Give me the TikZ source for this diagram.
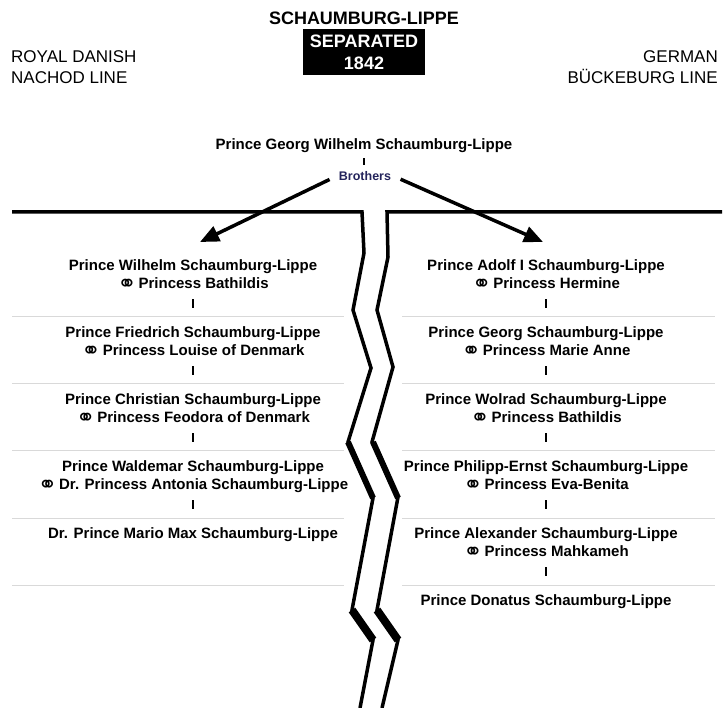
\documentclass[tikz,border=0pt]{standalone}
\usepackage{fontspec}
\setmainfont{Liberation Sans}
\newfontfamily\symfont{DejaVu Sans}
\usetikzlibrary{arrows.meta}
\definecolor{navy}{HTML}{23235B}
\definecolor{rulegray}{HTML}{D9D9D9}
\newcommand{\marr}{\raisebox{-3.5pt}{\symfont\fontsize{23}{23}\selectfont ⚭}\hspace{2pt}}
\begin{document}
\begin{tikzpicture}[x=1pt, y=-1pt, >={Triangle[length=19pt,width=16pt]},
 person/.style={font=\fontsize{15}{18}\selectfont\bfseries, inner sep=0pt, text height=11pt, text depth=3pt},
 tickline/.style={line width=2.5pt},
 sepline/.style={rulegray, line width=1pt},
 crack/.style={line width=3.5pt, line join=miter}]
 \useasboundingbox (0,0) rectangle (727,708);
 % heading
 \node[font=\fontsize{18}{20}\selectfont\bfseries] (title) at (364,18) {SCHAUMBURG-LIPPE};
 \node[fill=black, text=white, font=\fontsize{18}{22}\selectfont\bfseries, align=center,
   minimum width=122pt, minimum height=46pt] (split) at (364,52) {SEPARATED\\1842};
 \node[font=\fontsize{17}{21}\selectfont, align=left, anchor=west, inner sep=0pt] (danish) at (11,67) {ROYAL DANISH\\NACHOD LINE};
 \node[font=\fontsize{17}{21}\selectfont, align=right, anchor=east, inner sep=0pt] (german) at (718,67) {GERMAN\\BÜCKEBURG LINE};
 % common ancestor
 \node[person] (root) at (364,146) {Prince Georg Wilhelm Schaumburg-Lippe};
 \draw[tickline] ([yshift=-5pt]root.south) -- ++(0,7);
 \node[text=navy, font=\fontsize{12.5}{13}\selectfont\bfseries, inner sep=2pt] (bro) at (365,176) {Brothers};
 \coordinate (ltip) at (200,242);
 \coordinate (rtip) at (543,242);
 \draw[->, line width=3.5pt, shorten <=8pt] (bro.west) -- (ltip);
 \draw[->, line width=3.5pt, shorten <=8pt] (bro.east) -- (rtip);
 % separators
 \foreach \y in {316,383,450,518,585}
 {
   \draw[sepline] (12,\y) -- (344,\y);
   \draw[sepline] (402,\y) -- (715,\y);
 }
 % danish line
 \foreach \i/\pname/\sname in {1/Prince Wilhelm Schaumburg-Lippe/Princess Bathildis,
   2/Prince Friedrich Schaumburg-Lippe/Princess Louise of Denmark,
   3/Prince Christian Schaumburg-Lippe/Princess Feodora of Denmark,
   4/Prince Waldemar Schaumburg-Lippe/Dr. Princess Antonia Schaumburg-Lippe}
 {
   \node[person] (l\i) at (193,{266+67*(\i-1)}) {\pname};
   \node[person] (lw\i) at (193,{284+67*(\i-1)}) {\marr\sname};
   \draw[tickline] ([yshift=-8pt]lw\i.south) -- ++(0,9);
 }
 \node[person] (l5) at (193,534) {Dr. Prince Mario Max Schaumburg-Lippe};
 % german line
 \foreach \i/\pname/\sname in {1/Prince Adolf I Schaumburg-Lippe/Princess Hermine,
   2/Prince Georg Schaumburg-Lippe/Princess Marie Anne,
   3/Prince Wolrad Schaumburg-Lippe/Princess Bathildis,
   4/Prince Philipp-Ernst Schaumburg-Lippe/Princess Eva-Benita,
   5/Prince Alexander Schaumburg-Lippe/Princess Mahkameh}
 {
   \node[person] (r\i) at (546,{266+67*(\i-1)}) {\pname};
   \node[person] (rw\i) at (546,{284+67*(\i-1)}) {\marr\sname};
   \draw[tickline] ([yshift=-8pt]rw\i.south) -- ++(0,9);
 }
 \node[person] (r6) at (546,601) {Prince Donatus Schaumburg-Lippe};
 % the split
 \draw[crack] (12,212) -- (362,212) -- (364,253) -- (353,310) -- (371,368) -- (348,442)
   -- (373,498) -- (352,610) -- (373,640) -- (360,708);
 \draw[crack] (722,212) -- (387,212) -- (388,257) -- (377,310) -- (393,367) -- (372,442)
   -- (398,497) -- (377,610) -- (398,640) -- (382,708);
 \foreach \dx in {0,25}
 {
   \draw[line width=6pt] ({348+\dx},442) -- ({373+\dx},498);
   \draw[line width=8pt] ({352+\dx},610) -- ({373+\dx},640);
 }
\end{tikzpicture}
\end{document}
